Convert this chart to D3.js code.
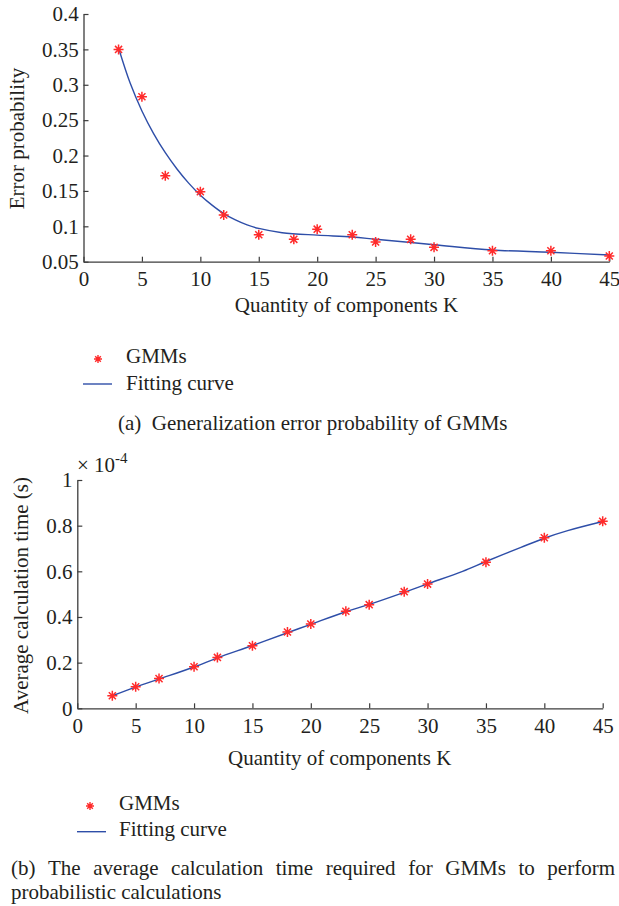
<!DOCTYPE html>
<html>
<head>
<meta charset="utf-8">
<script src="https://cdn.jsdelivr.net/npm/d3@7"></script>
<style>
  html, body { margin: 0; padding: 0; background: #fff; }
  svg { display: block; }
  text { font-family: "Liberation Serif", "Times New Roman", serif; fill: #231f20; }
</style>
</head>
<body>
<svg id="fig" width="619" height="906"></svg>
<script>
// ---- data ----
const kValues = [3, 5, 7, 10, 12, 15, 18, 20, 23, 25, 28, 30, 35, 40, 45];
const errorProb = [0.350, 0.283, 0.1715, 0.149, 0.116, 0.088, 0.0816, 0.096, 0.088, 0.078, 0.0816, 0.0703, 0.0655, 0.0655, 0.058];
const fitKErr = [3, 4, 5, 6, 7, 8, 9, 10, 11, 12, 13, 14, 15, 17, 20, 23, 25, 30, 35, 40, 45];
const fitErr = [0.352, 0.302, 0.263, 0.231, 0.204, 0.181, 0.161, 0.144, 0.130, 0.118, 0.109, 0.102, 0.097, 0.091, 0.0875, 0.0849, 0.0818, 0.074, 0.0665, 0.0633, 0.0595];

const calcTime = [0.055, 0.0946, 0.130, 0.182, 0.223, 0.274, 0.334, 0.369, 0.425, 0.454, 0.511, 0.544, 0.640, 0.747, 0.819];
const fitKTime = [3, 5, 7, 10, 12, 15, 18, 20, 23, 25, 28, 30, 33, 35, 38, 40, 42, 45];
const fitTime = [0.055, 0.093, 0.128, 0.181, 0.221, 0.275, 0.331, 0.368, 0.423, 0.455, 0.508, 0.545, 0.600, 0.643, 0.705, 0.745, 0.778, 0.818];

const xTicks = [0, 5, 10, 15, 20, 25, 30, 35, 40, 45];
const yTicksErr = [0.05, 0.1, 0.15, 0.2, 0.25, 0.3, 0.35, 0.4];
const yTickLabelsErr = ["0.05", "0.1", "0.15", "0.2", "0.25", "0.3", "0.35", "0.4"];
const yTicksTime = [0, 0.2, 0.4, 0.6, 0.8, 1];
const yTickLabelsTime = ["0", "0.2", "0.4", "0.6", "0.8", "1"];

const legendLabels = ["GMMs", "Fitting curve"];
const captionA = "(a)\u00a0\u00a0Generalization error probability of GMMs";
const captionB1 = "(b) The average calculation time required for GMMs to perform";
const captionB2 = "probabilistic calculations";

// ---- style ----
const FONT = 21;
const AXIS_COLOR = "#3c3c3c";
const LINE_COLOR = "#2e4ea8";
const MARK_COLOR = "#ff2b2b";

const svg = d3.select("#fig");

// asterisk marker: four strokes through the centre
function asterisk(r) {
  const d = r * Math.SQRT1_2;
  return `M${-r},0L${r},0M0,${-r}L0,${r}M${-d},${-d}L${d},${d}M${-d},${d}L${d},${-d}`;
}

function styleAxis(g) {
  g.selectAll(".domain").attr("stroke", AXIS_COLOR).attr("stroke-width", 1.3);
  g.selectAll(".tick line").attr("stroke", AXIS_COLOR).attr("stroke-width", 1.2);
  g.selectAll(".tick text").attr("font-size", FONT).attr("font-family", "Liberation Serif").attr("fill", "#231f20");
}

function drawPanel(cfg) {
  const x = d3.scaleLinear().domain([0, 45]).range(cfg.xRange);
  const y = d3.scaleLinear().domain(cfg.yDomain).range(cfg.yRange);

  const gx = svg.append("g")
    .attr("transform", `translate(0,${cfg.yRange[0]})`)
    .call(d3.axisBottom(x).tickValues(xTicks).tickFormat(d3.format("d"))
      .tickSizeInner(-5).tickSizeOuter(0).tickPadding(cfg.xPad));
  styleAxis(gx);

  const gy = svg.append("g")
    .attr("transform", `translate(${cfg.xRange[0]},0)`)
    .call(d3.axisLeft(y).tickValues(cfg.yTicks).tickFormat((d, i) => cfg.yLabels[i])
      .tickSizeInner(-5).tickSizeOuter(0).tickPadding(4.8));
  styleAxis(gy);

  // fitted curve
  const line = d3.line()
    .x((d, i) => x(cfg.fitK[i]))
    .y(d => y(d))
    .curve(d3.curveCatmullRom.alpha(0.5));
  svg.append("path")
    .attr("d", line(cfg.fitV))
    .attr("fill", "none")
    .attr("stroke", LINE_COLOR)
    .attr("stroke-width", 1.4);

  // measured points
  svg.append("g").selectAll("path")
    .data(cfg.values)
    .join("path")
    .attr("transform", (d, i) => `translate(${x(kValues[i])},${y(d)})`)
    .attr("d", asterisk(5))
    .attr("stroke", MARK_COLOR)
    .attr("stroke-width", 1.5)
    .attr("fill", "none");

  // axis titles
  svg.append("text")
    .attr("x", cfg.xTitle[0]).attr("y", cfg.xTitle[1])
    .attr("text-anchor", "middle").attr("font-size", FONT)
    .text("Quantity of components K");
  svg.append("text")
    .attr("transform", `translate(${cfg.yTitle[0]},${cfg.yTitle[1]}) rotate(-90)`)
    .attr("text-anchor", "middle").attr("font-size", FONT)
    .text(cfg.yTitleText);

  // legend
  const lg = cfg.legend;
  svg.append("path")
    .attr("transform", `translate(${lg.starX},${lg.starY})`)
    .attr("d", asterisk(4))
    .attr("stroke", MARK_COLOR).attr("stroke-width", 1.4).attr("fill", "none");
  svg.append("text").attr("x", lg.textX).attr("y", lg.row1).attr("font-size", FONT).text(legendLabels[0]);
  svg.append("line")
    .attr("x1", lg.lineX[0]).attr("x2", lg.lineX[1])
    .attr("y1", lg.lineY).attr("y2", lg.lineY)
    .attr("stroke", LINE_COLOR).attr("stroke-width", 1.4);
  svg.append("text").attr("x", lg.textX).attr("y", lg.row2).attr("font-size", FONT).text(legendLabels[1]);
}

// panel (a)
drawPanel({
  xRange: [83.5, 609.3],
  yDomain: [0.05, 0.4],
  yRange: [261.7, 14],
  yTicks: yTicksErr,
  yLabels: yTickLabelsErr,
  xPad: 9,
  values: errorProb,
  fitK: fitKErr,
  fitV: fitErr,
  xTitle: [346.5, 312],
  yTitle: [24, 138.5],
  yTitleText: "Error probability",
  legend: { starX: 98, starY: 359, textX: 126, row1: 363, row2: 390, lineX: [83, 112], lineY: 384 }
});

// panel (b)
drawPanel({
  xRange: [77.3, 602.7],
  yDomain: [0, 1],
  yRange: [708.3, 480],
  yTicks: yTicksTime,
  yLabels: yTickLabelsTime,
  xPad: 9.8,
  values: calcTime,
  fitK: fitKTime,
  fitV: fitTime,
  xTitle: [339.7, 764.5],
  yTitle: [28, 595.5],
  yTitleText: "Average calculation time (s)",
  legend: { starX: 90, starY: 806, textX: 119, row1: 810, row2: 836, lineX: [77, 106], lineY: 831.7 }
});

// exponent note for panel (b)
const expo = svg.append("text").attr("x", 77).attr("y", 471.5).attr("font-size", FONT);
expo.append("tspan").text("\u00d7 10");
expo.append("tspan").attr("font-size", 15).attr("dy", -9).text("-4");

// captions
svg.append("text").attr("x", 118).attr("y", 430).attr("font-size", FONT).text(captionA);

// caption (b): two lines, the first one justified across the width
(function () {
  const left = 11, right = 615, line1 = 875.2, line2 = 898.8;
  const row = svg.append("g");
  const words = captionB1.split(" ");
  const nodes = words.map(w => row.append("text").attr("y", line1).attr("font-size", FONT).text(w));
  const widths = nodes.map(n => n.node().getComputedTextLength());
  const gap = (right - left - d3.sum(widths)) / (words.length - 1);
  let cx = left;
  nodes.forEach((n, i) => { n.attr("x", cx); cx += widths[i] + gap; });
  svg.append("text").attr("x", left).attr("y", line2).attr("font-size", FONT).text(captionB2);
})();
</script>
</body>
</html>
